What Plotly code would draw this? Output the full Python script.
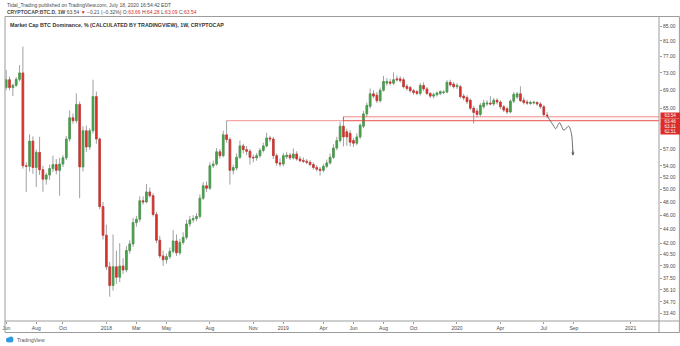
import math
import pandas as pd
import plotly.graph_objects as go

# Weekly BTC dominance candles (CRYPTOCAP:BTC.D, 1W), first bar week of 2017-06-05
first_week = "2017-06-05"
opens = [69.6, 71.4, 69.6, 70.1, 71.5, 73.0, 54.0, 53.9, 58.5, 53.7,
         56.4, 53.3, 51.7, 52.4, 53.5, 54.2, 53.2, 54.3, 55.4, 58.9,
         63.1, 62.5, 65.9, 53.8, 60.5, 57.4, 60.5, 67.6, 58.9, 47.3,
         43.1, 38.9, 36.6, 38.9, 37.6, 39.0, 38.5, 41.0, 41.9, 44.9,
         45.4, 48.2, 48.0, 49.6, 49.0, 46.1, 42.4, 40.3, 39.8, 40.2,
         40.9, 42.3, 40.7, 42.1, 42.8, 44.7, 45.3, 45.5, 45.8, 48.6,
         50.6, 50.2, 54.0, 54.3, 56.5, 55.8, 59.7, 58.8, 53.2, 53.6,
         55.5, 57.6, 56.9, 56.6, 55.5, 55.4, 55.8, 56.75, 57.6, 59.1,
         58.9, 55.8, 54.5, 54.3, 55.6, 55.9, 55.4, 56.1, 55.2, 54.95,
         54.8, 54.6, 54.2, 53.7, 53.4, 53.2, 53.9, 54.5, 55.5, 57.2,
         58.6, 61.4, 60.3, 60.0, 58.6, 58.1, 59.3, 61.4, 63.9, 65.5,
         68.2, 67.9, 66.7, 69.0, 70.6, 70.9, 70.6, 71.6, 71.6, 71.4,
         69.9, 69.6, 68.9, 68.7, 68.3, 70.1, 69.3, 68.3, 67.7, 68.0,
         68.3, 68.5, 68.6, 70.8, 70.4, 69.8, 69.8, 67.7, 67.4, 66.8,
         65.1, 64.5, 63.8, 65.4, 66.0, 66.2, 66.0, 66.8, 66.4, 65.4,
         65.0, 64.3, 66.6, 67.5, 68.2, 66.8, 66.4, 66.1, 66.2, 66.3,
         66.0, 65.4, 63.66]
highs = [73.7, 72.1, 70.5, 72.0, 74.9, 79.5, 54.6, 59.8, 59.4, 56.9,
         59.3, 54.0, 52.8, 54.2, 55.8, 55.2, 55.4, 55.9, 59.5, 64.6,
         64.0, 68.3, 66.5, 61.4, 61.5, 61.0, 71.4, 68.7, 59.2, 48.0,
         44.6, 39.5, 43.2, 41.0, 42.0, 40.0, 41.6, 42.4, 45.6, 45.9,
         48.9, 48.9, 50.9, 50.3, 49.4, 46.5, 43.0, 41.0, 40.6, 41.4,
         43.8, 43.2, 42.6, 43.5, 45.3, 45.9, 46.0, 46.3, 49.2, 51.2,
         51.3, 54.6, 54.9, 57.2, 57.0, 60.5, 62.51, 59.2, 54.2, 56.2,
         58.6, 58.0, 57.6, 57.0, 56.0, 56.3, 57.2, 58.2, 60.1, 59.5,
         59.3, 56.2, 55.3, 56.3, 56.5, 56.3, 57.1, 56.6, 55.7, 55.5,
         55.2, 55.0, 54.6, 54.1, 53.8, 54.3, 55.1, 56.2, 57.9, 59.3,
         62.3, 63.31, 60.9, 60.6, 59.1, 60.0, 62.0, 64.5, 66.3, 69.4,
         69.0, 68.6, 69.6, 72.3, 71.8, 71.6, 73.1, 72.4, 72.2, 71.9,
         70.4, 70.0, 69.3, 69.1, 70.6, 70.8, 69.7, 68.6, 68.5, 68.7,
         69.0, 69.0, 71.3, 71.4, 70.9, 70.6, 70.2, 68.2, 67.9, 67.2,
         65.6, 65.1, 66.2, 66.9, 66.8, 67.7, 67.3, 67.2, 66.8, 65.8,
         65.4, 67.0, 68.6, 68.6, 69.9, 67.4, 66.9, 66.7, 66.7, 66.6,
         66.4, 65.8, 64.28]
lows = [69.0, 69.0, 67.7, 69.8, 71.0, 53.5, 49.6, 53.0, 52.6, 50.4,
        52.4, 49.6, 50.8, 51.6, 52.9, 52.5, 49.0, 53.8, 55.0, 58.4,
        61.9, 62.0, 48.6, 53.0, 56.5, 56.9, 60.0, 58.0, 46.9, 42.5,
        38.5, 35.3, 36.0, 36.8, 37.0, 38.0, 38.2, 40.6, 41.5, 44.3,
        45.0, 47.6, 47.8, 48.7, 45.8, 42.0, 40.0, 39.0, 39.3, 39.9,
        40.6, 40.3, 40.4, 41.8, 42.5, 44.3, 44.9, 45.1, 45.5, 48.3,
        49.6, 49.9, 53.6, 54.0, 55.3, 55.5, 58.2, 50.8, 52.5, 53.2,
        55.2, 56.2, 55.9, 54.2, 54.6, 54.9, 55.4, 56.4, 57.3, 58.3,
        55.2, 54.0, 53.8, 53.9, 55.2, 55.0, 55.1, 54.9, 54.6, 54.5,
        54.3, 53.9, 53.3, 53.0, 52.3, 52.9, 53.6, 54.2, 55.2, 56.8,
        58.2, 57.5, 57.6, 57.5, 57.4, 57.7, 58.9, 61.0, 63.3, 65.0,
        67.2, 66.2, 66.3, 68.7, 70.0, 70.1, 70.2, 71.0, 70.7, 69.4,
        68.9, 68.5, 68.0, 67.9, 67.8, 68.8, 67.9, 67.3, 67.2, 67.6,
        67.9, 68.1, 68.3, 69.8, 69.4, 69.3, 67.2, 66.8, 66.0, 64.7,
        61.9, 63.2, 63.4, 65.0, 65.6, 65.7, 65.6, 65.9, 64.9, 64.3,
        63.9, 64.0, 66.2, 67.1, 66.4, 65.9, 65.8, 65.8, 65.9, 65.6,
        65.0, 63.4, 63.09]
closes = [71.4, 69.6, 70.1, 71.5, 73.0, 54.0, 53.9, 58.5, 53.7, 56.4,
          53.3, 51.7, 52.4, 53.5, 54.2, 53.2, 54.3, 55.4, 58.9, 63.1,
          62.5, 65.9, 53.8, 60.5, 57.4, 60.5, 67.6, 58.9, 47.3, 43.1,
          38.9, 36.6, 38.9, 37.6, 39.0, 38.5, 41.0, 41.9, 44.9, 45.4,
          48.2, 48.0, 49.6, 49.0, 46.1, 42.4, 40.3, 39.8, 40.2, 40.9,
          42.3, 40.7, 42.1, 42.8, 44.7, 45.3, 45.5, 45.8, 48.6, 50.6,
          50.2, 54.0, 54.3, 56.5, 55.8, 59.7, 58.8, 53.2, 53.7, 55.5,
          57.6, 56.9, 56.6, 55.5, 55.4, 55.8, 56.75, 57.6, 59.1, 58.9,
          55.8, 54.5, 54.3, 55.8, 55.9, 55.4, 56.1, 55.2, 54.9, 54.8,
          54.6, 54.2, 53.7, 53.4, 53.2, 53.9, 54.5, 55.5, 57.2, 58.6,
          61.4, 59.3, 59.3, 58.3, 58.1, 59.3, 61.6, 63.9, 65.7, 68.2,
          67.7, 66.7, 69.0, 71.0, 71.0, 70.6, 71.4, 71.4, 71.2, 69.8,
          69.4, 68.9, 68.5, 68.3, 70.1, 69.3, 68.3, 67.7, 68.0, 68.4,
          68.7, 68.6, 70.8, 70.2, 69.8, 70.1, 67.6, 67.3, 66.5, 65.1,
          64.2, 63.8, 65.7, 66.2, 66.2, 66.0, 66.8, 66.4, 65.4, 64.7,
          64.3, 66.6, 68.1, 68.2, 66.7, 66.3, 66.2, 66.3, 66.35, 66.0,
          65.4, 63.75, 63.54]

# Horizontal levels drawn on the chart
ray_level = 62.51
ray_start = "2018-09-10"
zone_top = 63.31
zone_start = "2019-05-13"
level_labels = ["63.54", "63.46", "63.31", "62.51"]

# Projected path (hand-drawn style) after the last bar
path_dates = ["2020-07-13", "2020-07-27", "2020-07-31", "2020-08-08",
              "2020-08-17", "2020-08-27", "2020-09-02", "2020-09-05"]
path_values = [63.5, 61.4, 60.9, 62.1, 60.6, 61.4, 59.9, 56.0]

# Axis ticks
y_ticks = [85, 81, 77, 73, 69, 65, 57, 54, 52, 50, 48, 46, 44, 42, 40.5,
           39, 37.5, 36.1, 34.7, 33.4]
x_tick_dates = ["2017-06-05", "2017-08-07", "2017-10-02", "2018-01-01",
                "2018-03-05", "2018-05-07", "2018-08-06", "2018-11-05",
                "2019-01-07", "2019-04-01", "2019-06-03", "2019-08-05",
                "2019-10-07", "2020-01-06", "2020-04-06", "2020-07-06",
                "2020-09-07", "2021-01-04"]
x_tick_text = ["Jun", "Aug", "Oct", "2018", "Mar", "May", "Aug", "Nov",
               "2019", "Apr", "Jun", "Aug", "Oct", "2020", "Apr", "Jul",
               "Sep", "2021"]

weeks = pd.date_range(first_week, periods=len(opens), freq="7D")
body_hi = [max(o, c) for o, c in zip(opens, closes)]
body_lo = [min(o, c) for o, c in zip(opens, closes)]

UP = "#43a047"
DOWN = "#d9302c"
WICK = "#a0a0a0"
FRAME = "#9c9c9c"
TXT = "#4a4a4a"
FONT = "Liberation Sans, Arial, sans-serif"

fig = go.Figure()

# wicks (grey), drawn first
fig.add_trace(go.Candlestick(
    x=weeks, open=opens, high=highs, low=lows, close=closes,
    increasing=dict(line=dict(color=WICK, width=1), fillcolor=WICK),
    decreasing=dict(line=dict(color=WICK, width=1), fillcolor=WICK),
    whiskerwidth=0, hoverinfo="skip"))
# coloured bodies on top
fig.add_trace(go.Candlestick(
    x=weeks, open=opens, high=body_hi, low=body_lo, close=closes,
    increasing=dict(line=dict(color=UP, width=0.6), fillcolor=UP),
    decreasing=dict(line=dict(color=DOWN, width=0.6), fillcolor=DOWN),
    whiskerwidth=0, hoverinfo="skip"))

x_end = "2021-06-01"
# support ray and zone
fig.add_trace(go.Scatter(x=[ray_start, x_end], y=[ray_level, ray_level],
                         mode="lines", line=dict(color="rgba(229,57,53,0.55)", width=1),
                         hoverinfo="skip"))
fig.add_trace(go.Scatter(x=[x_end, zone_start, zone_start, x_end],
                         y=[zone_top, zone_top, ray_level, ray_level],
                         mode="lines", line=dict(color="rgba(229,57,53,0.55)", width=1),
                         fill="toself", fillcolor="rgba(229,57,53,0.04)",
                         hoverinfo="skip"))

# projected path
fig.add_trace(go.Scatter(x=path_dates, y=path_values, mode="lines",
                         line=dict(color="#5f5f5f", width=0.9, shape="spline", smoothing=0.8),
                         hoverinfo="skip"))
fig.add_annotation(x=path_dates[-1], y=math.log10(path_values[-1] - 0.2), xref="x", yref="y",
                   ax=0, ay=-7, showarrow=True, arrowhead=2, arrowsize=0.8,
                   arrowwidth=0.8, arrowcolor="#5f5f5f", text="", standoff=0)

# price labels on the scale
for k, txt in enumerate(level_labels):
    fig.add_annotation(x=1, xref="paper", xanchor="left", xshift=1,
                       y=math.log10(float(level_labels[0])), yref="y",
                       yanchor="middle", yshift=-5.4 * k,
                       text=txt, showarrow=False, bgcolor="#dc2c28",
                       font=dict(color="white", size=4.6, family=FONT),
                       width=18, height=4.6, borderpad=0.35, align="center")

# header lines
red = "#d9302c"
fig.add_annotation(x=0, xref="paper", xanchor="left", xshift=0,
                   y=1.0395, yref="paper", yanchor="middle",
                   text="Tidal_Trading published on TradingView.com, July 18, 2020 16:54:42 EDT",
                   showarrow=False, font=dict(size=5, color=TXT, family=FONT))
fig.add_annotation(x=0, xref="paper", xanchor="left",
                   y=1.016, yref="paper", yanchor="middle",
                   text=("<b>CRYPTOCAP:BTC.D, 1W</b> 63.54 "
                         f"<span style='color:{red}'>▼</span> −0.21 (−0.32%) "
                         f"O:<span style='color:{red}'>63.66</span> "
                         f"H:<span style='color:{red}'>64.28</span> "
                         f"L:<span style='color:{red}'>63.09</span> "
                         f"C:<span style='color:{red}'>63.54</span>"),
                   showarrow=False, font=dict(size=5, color=TXT, family=FONT))
fig.add_annotation(x=0, xref="paper", xanchor="left", xshift=3,
                   y=0.975, yref="paper", yanchor="middle",
                   text="<b>Market Cap BTC Dominance, % (CALCULATED BY TRADINGVIEW), 1W, CRYPTOCAP</b>",
                   showarrow=False, font=dict(size=5.3, color="#333333", family=FONT))

# footer brand
fig.add_annotation(x=0, xref="paper", xanchor="left", xshift=10,
                   y=-0.063, yref="paper", yanchor="middle", text="TradingView",
                   showarrow=False, font=dict(size=5, color="#555555", family=FONT))

W, H = 657.0, 304.0


def px(x):
    return (x - 2) / W


def py(y):
    return (321 - y) / H


shapes = [
    # frame
    dict(type="line", x0=px(2), x1=px(679.5), y0=py(16.5), y1=py(16.5)),
    dict(type="line", x0=px(2), x1=px(2), y0=py(16.5), y1=py(332.5)),
    dict(type="line", x0=px(2), x1=px(679.5), y0=py(321), y1=py(321)),
    dict(type="line", x0=px(2), x1=px(679.5), y0=py(332.5), y1=py(332.5)),
    dict(type="line", x0=px(659), x1=px(659), y0=py(16.5), y1=py(332.5)),
    dict(type="line", x0=px(679.5), x1=px(679.5), y0=py(16.5), y1=py(332.5)),
]
for s in shapes:
    s.update(xref="paper", yref="paper", line=dict(color=FRAME, width=1), layer="above")
# brand icon
shapes.append(dict(type="circle", xref="paper", yref="paper",
                   x0=px(3), x1=px(8), y0=py(342.5), y1=py(337.5),
                   fillcolor="#2f9ae0", line=dict(width=0)))
shapes.append(dict(type="circle", xref="paper", yref="paper",
                   x0=px(5.5), x1=px(10.5), y0=py(342.5), y1=py(336.5),
                   fillcolor="#2f9ae0", line=dict(width=0)))

fig.update_layout(
    width=680, height=346,
    margin=dict(l=2, r=21, t=17, b=25),
    paper_bgcolor="white", plot_bgcolor="white",
    showlegend=False,
    font=dict(family=FONT, size=5, color=TXT),
    shapes=shapes,
    xaxis=dict(type="date", range=["2017-06-02 12:00", "2021-03-04 12:00"],
               tickmode="array", tickvals=x_tick_dates, ticktext=x_tick_text,
               ticks="outside", ticklen=2, tickcolor=FRAME, tickwidth=1,
               tickfont=dict(size=5, color=TXT), ticklabeloverflow="allow",
               showgrid=False, zeroline=False, showline=False,
               rangeslider=dict(visible=False), fixedrange=True),
    yaxis=dict(type="log", side="right",
               range=[math.log10(32.62), math.log10(87.53)],
               tickmode="array", tickvals=y_ticks,
               ticktext=[f"{v:.2f}" for v in y_ticks],
               ticks="outside", ticklen=2, tickcolor=FRAME, tickwidth=1,
               tickfont=dict(size=5, color=TXT),
               showgrid=False, zeroline=False, showline=False, fixedrange=True),
)

fig.write_html("out.html")
